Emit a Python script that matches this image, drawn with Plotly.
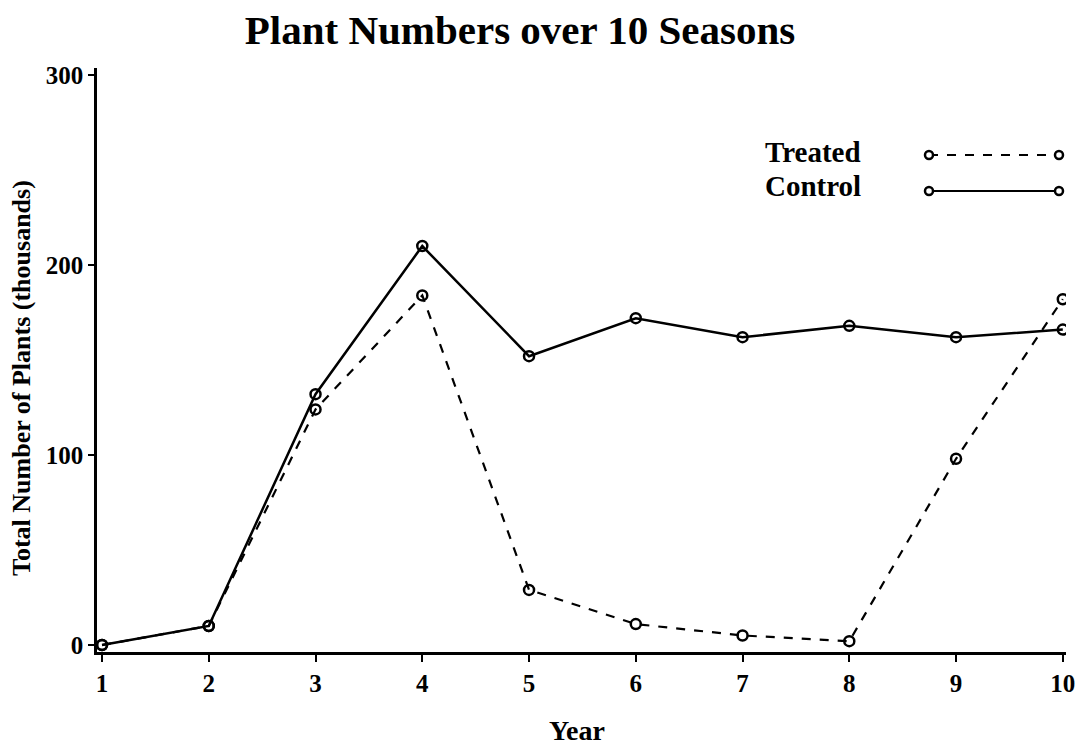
import plotly.graph_objects as go

years = [1, 2, 3, 4, 5, 6, 7, 8, 9, 10]
treated = [0, 10, 124, 184, 29, 11, 5, 2, 98, 182]
control = [0, 10, 132, 210, 152, 172, 162, 168, 162, 166]
series_names = ["Treated", "Control"]
y_ticks = [0, 100, 200, 300]

W, H = 1080, 745
L, T = 97, 68
R, B = W - 1066, H - 652
FONT = "Liberation Serif"

def px_x(p):
    return (p - L) / (W - L - R)

def px_y(p):
    return 1 - (p - T) / (H - T - B)

fig = go.Figure()
fig.add_trace(go.Scatter(x=years, y=treated, mode="lines+markers", name="Treated",
                         line=dict(color="black", width=2.2, dash="dash"),
                         marker=dict(symbol="circle-open", size=10, color="black", line=dict(width=2.5))))
fig.add_trace(go.Scatter(x=years, y=control, mode="lines+markers", name="Control",
                         line=dict(color="black", width=2.5),
                         marker=dict(symbol="circle-open", size=10, color="black", line=dict(width=2.5))))

shapes = []
annotations = []
for i, (name, dash) in enumerate(zip(series_names, ["dash", "solid"])):
    yy = px_y(155 + 36 * i)
    shapes.append(dict(type="line", xref="paper", yref="paper", x0=px_x(929), x1=px_x(1059),
                       y0=yy, y1=yy, line=dict(color="black", width=2.2, dash=dash)))
    for xx in (929, 1059):
        shapes.append(dict(type="circle", xref="paper", yref="paper", xsizemode="pixel", ysizemode="pixel",
                           xanchor=px_x(xx), yanchor=yy, x0=-4, x1=4, y0=-4, y1=4,
                           line=dict(color="black", width=2.5), fillcolor="white"))
    annotations.append(dict(text="<b>%s</b>" % name, xref="paper", yref="paper", x=px_x(763), y=px_y(152 + 34 * i),
                            xanchor="left", yanchor="middle", showarrow=False,
                            font=dict(family=FONT, size=29, color="black")))

annotations.append(dict(text="<b>Total Number of Plants (thousands)</b>", xref="paper", yref="paper",
                        x=px_x(21), y=px_y(378), xanchor="center", yanchor="middle", textangle=-90,
                        showarrow=False, font=dict(family=FONT, size=26, color="black")))
annotations.append(dict(text="<b>Year</b>", xref="paper", yref="paper",
                        x=px_x(577), y=px_y(730), xanchor="center", yanchor="middle",
                        showarrow=False, font=dict(family=FONT, size=28, color="black")))

fig.update_layout(
    width=W, height=H, plot_bgcolor="white", paper_bgcolor="white",
    margin=dict(l=L, r=R, t=T, b=B, autoexpand=False), showlegend=False,
    title=dict(text="<b>Plant Numbers over 10 Seasons</b>", x=520 / W, xanchor="center",
               y=1 - 30 / H, yanchor="middle",
               font=dict(family=FONT, size=41, color="black")),
    shapes=shapes, annotations=annotations,
    xaxis=dict(range=[0.953, 10.03], tickvals=years, ticktext=["<b>%d</b>" % y for y in years],
               showgrid=False, zeroline=False, showline=True, linecolor="black", linewidth=2.5,
               ticks="outside", ticklen=7, tickwidth=2, tickcolor="black",
               tickfont=dict(family=FONT, size=25, color="black")),
    yaxis=dict(range=[-3.7, 303.7], tickvals=y_ticks, ticktext=["<b>%d</b>" % v for v in y_ticks],
               showgrid=False, zeroline=False, showline=True, linecolor="black", linewidth=2.5,
               ticks="outside", ticklen=6, tickwidth=2, tickcolor="black",
               tickfont=dict(family=FONT, size=25, color="black")),
)

fig.write_html("out.html", config={"displayModeBar": False},
               post_script="document.body.style.margin='0';document.body.style.overflow='hidden';")
